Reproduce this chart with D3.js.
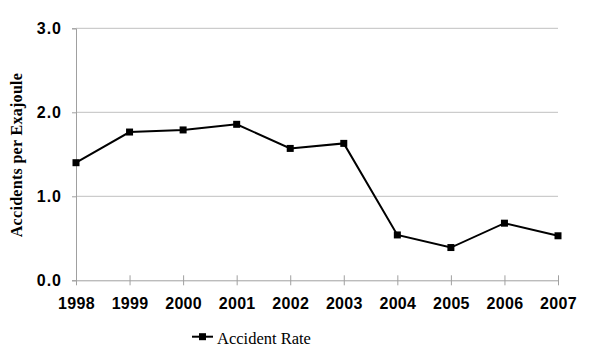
<!DOCTYPE html>
<html><head><meta charset="utf-8">
<script src="https://cdn.jsdelivr.net/npm/d3@7"></script>
<style>body{margin:0;background:#fff}svg{display:block}</style>
</head><body>
<svg id="c" width="595" height="356"></svg>
<script>
const years = ["1998","1999","2000","2001","2002","2003","2004","2005","2006","2007"];
const rates = [1.40, 1.765, 1.79, 1.857, 1.57, 1.63, 0.54, 0.39, 0.68, 0.53];
const yTicks = [0, 1, 2, 3];
const seriesName = "Accident Rate";
const yTitle = "Accidents per Exajoule";

const svg = d3.select("#c");
const x = d3.scalePoint().domain(years).range([76, 558]);
const y = d3.scaleLinear().domain([0, 3]).range([280.3, 28.3]);

// gridlines
svg.append("g").selectAll("line").data(yTicks.filter(d => d > 0)).join("line")
  .attr("x1", 76).attr("x2", 558).attr("y1", d => y(d)).attr("y2", d => y(d))
  .attr("stroke", "#c0c0c0").attr("stroke-width", 1);

// y axis
const ya = svg.append("g").attr("transform", "translate(76,0)")
  .call(d3.axisLeft(y).tickValues(yTicks).tickFormat(d3.format(".1f")).tickSize(4).tickPadding(10));
ya.select(".domain").attr("stroke", "#a0a0a0");
ya.selectAll(".tick line").attr("stroke", "#a0a0a0");
ya.selectAll("text").attr("font-family", "Liberation Sans, Arial, sans-serif")
  .attr("font-weight", "bold").attr("font-size", 16).attr("fill", "#000").attr("letter-spacing", 1);

// x axis
const xa = svg.append("g").attr("transform", "translate(0,280.3)")
  .call(d3.axisBottom(x).tickSizeInner(5).tickSizeOuter(0).tickPadding(12));
xa.select(".domain").attr("stroke", "#a0a0a0");
xa.selectAll(".tick line").attr("y1", -5).attr("y2", 5).attr("stroke", "#a0a0a0");
xa.selectAll("text").attr("font-family", "Liberation Sans, Arial, sans-serif")
  .attr("font-weight", "bold").attr("font-size", 16).attr("fill", "#000").attr("letter-spacing", 0.3);

// y title
svg.append("text").attr("transform", "translate(22,155) rotate(-90)")
  .attr("text-anchor", "middle").attr("font-family", "Liberation Serif, Times New Roman, serif")
  .attr("font-weight", "bold").attr("font-size", 16).attr("letter-spacing", 0.3).text(yTitle);

// line
const data = years.map((d, i) => ({year: d, v: rates[i]}));
svg.append("path").datum(data)
  .attr("d", d3.line().x(d => x(d.year)).y(d => y(d.v)))
  .attr("fill", "none").attr("stroke", "#000").attr("stroke-width", 2);
svg.append("g").selectAll("rect").data(data).join("rect")
  .attr("x", d => x(d.year) - 3.5).attr("y", d => y(d.v) - 3.5)
  .attr("width", 7).attr("height", 7).attr("fill", "#000");

// legend
const lg = svg.append("g");
lg.append("line").attr("x1", 192).attr("x2", 213).attr("y1", 336.7).attr("y2", 336.7)
  .attr("stroke", "#000").attr("stroke-width", 2);
lg.append("rect").attr("x", 199).attr("y", 333.2).attr("width", 7).attr("height", 7).attr("fill", "#000");
lg.append("text").attr("x", 217).attr("y", 344)
  .attr("font-family", "Liberation Serif, Times New Roman, serif").attr("font-size", 16.5)
  .text(seriesName);
</script>
</body></html>
